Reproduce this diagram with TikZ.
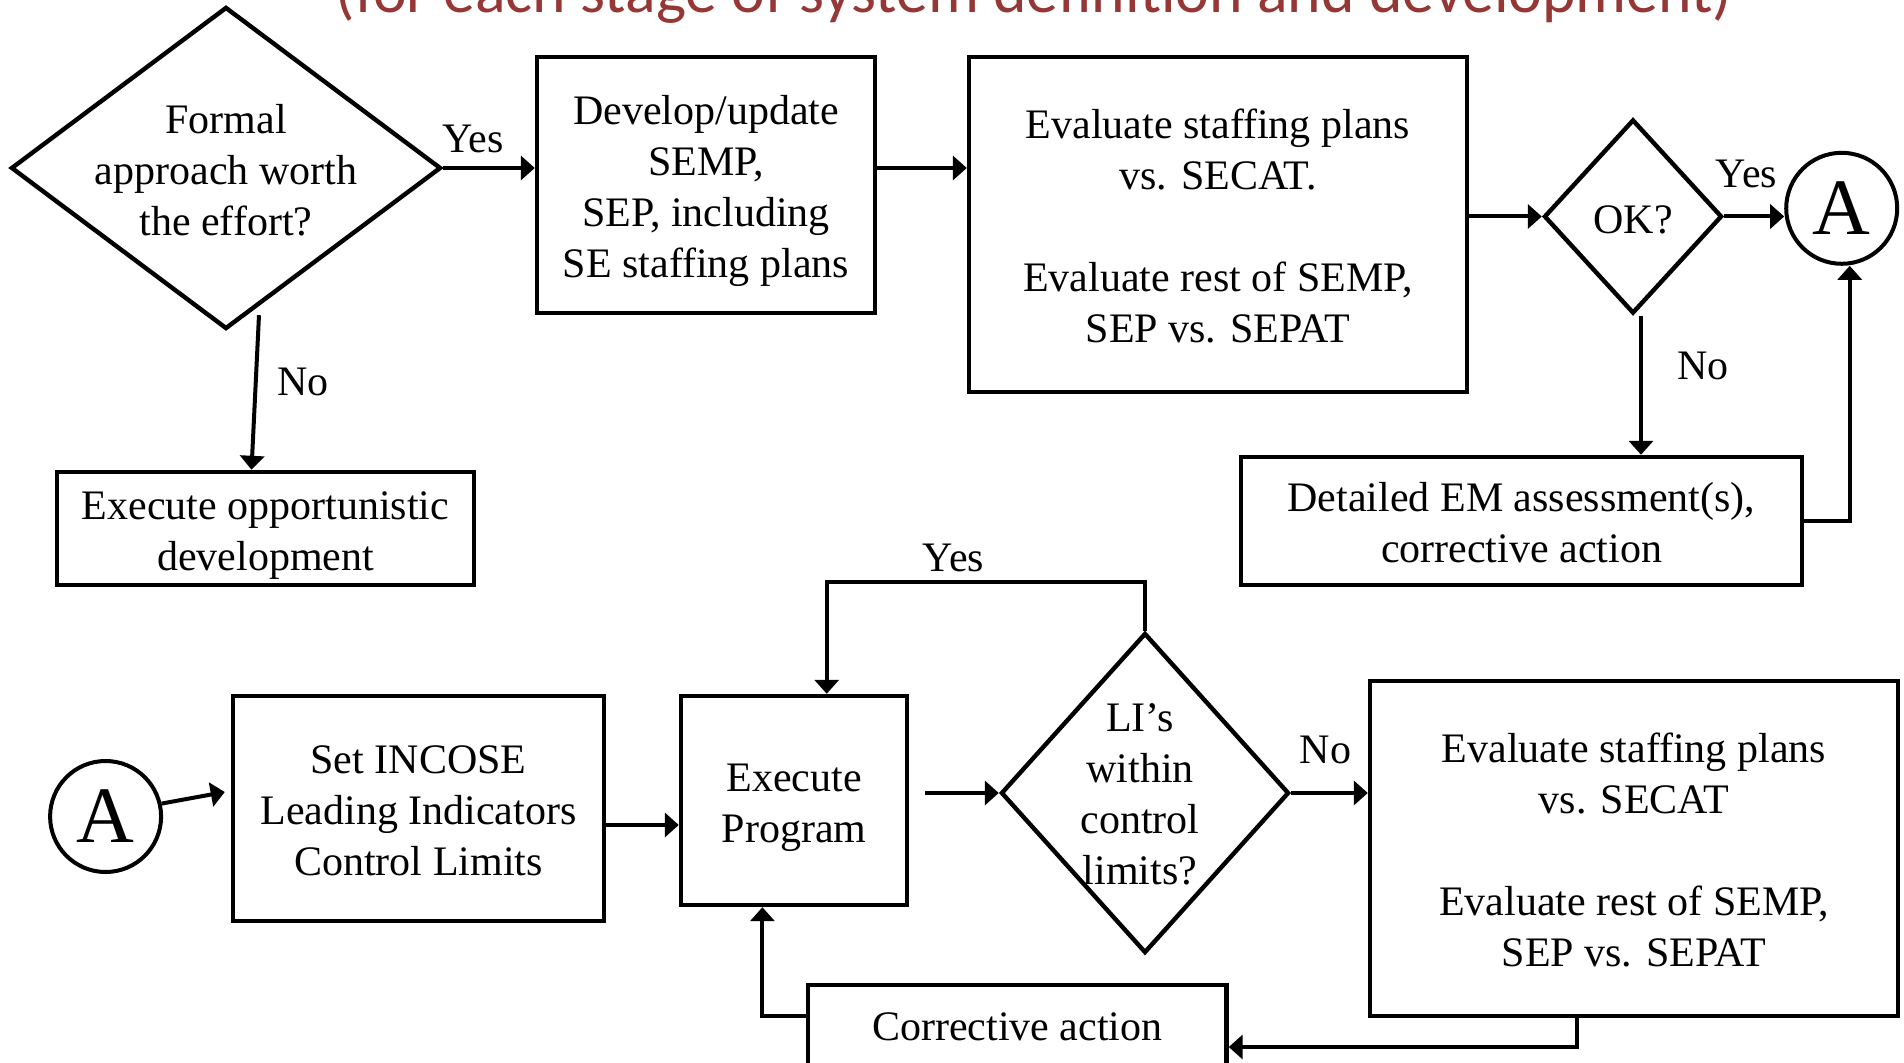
\documentclass[tikz,border=0pt]{standalone}
\usepackage{fontspec}
\setmainfont{Liberation Serif}
\newfontfamily\titlefont{Carlito}
\usetikzlibrary{arrows.meta,shapes.geometric,calc}
\newlength\pxu
\setlength\pxu{0.5pt}
\newcommand\tstr[1]{\rule{0pt}{#1}}
\definecolor{titlered}{RGB}{149,55,53}
\begin{document}
\begin{tikzpicture}[x=0.5pt,y=-0.5pt,
  every node/.style={font=\fontsize{21}{25.5}\selectfont},
  box/.style={draw, line width=2.2pt, rectangle, align=center, inner sep=0pt},
  dia/.style={draw, line width=2.2pt, diamond, inner sep=0pt},
  circ/.style={draw, line width=2pt, circle, inner sep=0pt, minimum size=55.5pt, font=\fontsize{40}{40}\selectfont},
  arr/.style={line width=2pt, -{Triangle[length=7pt,width=12pt]}},
  lbl/.style={anchor=base, inner sep=0pt},
  txt/.style={align=center, inner sep=0pt}
]
\useasboundingbox (0,0) rectangle (1904,1063);
\fill[white] (0,0) rectangle (1904,1063);
\clip (0,0) rectangle (1904,1063);

% title (cut off at top)
\node[anchor=base, inner sep=0pt, text=titlered, font=\titlefont\fontsize{31.9}{31.9}\selectfont] (title) at (1034,12.5) {(for each stage of system definition and development)};

% ---- top row ----
\node[dia, minimum width=430\pxu, minimum height=322\pxu] (d1) at (226,168) {};
\node[txt] (d1t) at (226,170) {Formal\\approach worth\\the effort?};

\node[box, minimum width=338\pxu, minimum height=256\pxu] (dev) at (706,185)
  {\tstr{20.5pt}Develop/update\\SEMP,\\SEP, including\\SE staffing plans};

\node[box, minimum width=498\pxu, minimum height=335\pxu] (ev1) at (1218,224.5)
  {\tstr{16.7pt}Evaluate staffing plans\\vs. SECAT.\\[25.5pt]Evaluate rest of SEMP,\\SEP vs. SEPAT};

\node[dia, minimum width=178\pxu, minimum height=194\pxu] (ok) at (1633,216.5) {};
\node[txt] (okt) at (1633,219.5) {OK?};

\node[circ, minimum size=111\pxu] (a1) at (1841.7,208.3) {A};

\node[box, minimum width=561\pxu, minimum height=128\pxu] (det) at (1521.5,521)
  {\tstr{16.7pt}Detailed EM assessment(s),\\corrective action};

\node[box, minimum width=417\pxu, minimum height=113\pxu] (opp) at (265.5,528.5)
  {\tstr{21.2pt}Execute opportunistic\\development};

% ---- bottom row ----
\node[circ, minimum size=111\pxu] (a2) at (105.6,816.5) {A};

\node[box, minimum width=371\pxu, minimum height=225\pxu] (set) at (418.5,808.5)
  {\tstr{16.3pt}Set INCOSE\\Leading Indicators\\Control Limits};

\node[box, minimum width=226\pxu, minimum height=209\pxu] (exe) at (794,800.5)
  {\tstr{21.2pt}Execute\\Program};

\node[dia, minimum width=288\pxu, minimum height=320\pxu] (li) at (1145,793) {};
\node[txt] (lit) at (1140,794.4) {LI's\\within\\control\\limits?};

\node[box, minimum width=528\pxu, minimum height=335\pxu] (ev2) at (1634,848.5)
  {\tstr{16.7pt}Evaluate staffing plans\\vs. SECAT\\[25.5pt]Evaluate rest of SEMP,\\SEP vs. SEPAT};

\node[box, minimum width=418.5\pxu, minimum height=110\pxu] (corr) at (1017.25,1040) {};
\node[txt] (corrt) at (1017.25,1026.5) {Corrective action};

% ---- labels ----
\node[lbl] (yes1) at (473,153) {Yes};
\node[lbl] (no1) at (303,396) {No};
\node[lbl] (yes2) at (1746.5,188) {Yes};
\node[lbl] (no2) at (1703,380) {No};
\node[lbl] (yes3) at (953.5,571) {Yes};
\node[lbl] (no3) at (1325.5,763) {No};

% ---- connectors ----
\draw[arr] (d1.east) -- (d1.east -| dev.west);
\draw[arr] (d1.east -| dev.east) -- (d1.east -| ev1.west);
\draw[arr] (ok.west -| ev1.east) -- (ok.west);
\draw[arr] (ok.east) -- (ok.east -| a1.west);
\draw[arr] ([xshift=4pt]ok.south) -- ([xshift=4pt]ok.south |- det.north);
\draw[arr] (det.east) -| ([xshift=4pt]a1.south);
\draw[arr] ([xshift=16.5pt,yshift=8pt]d1.south) -- ([xshift=-7pt]opp.north);

\draw[arr] (a2.13) -- ([xshift=-3pt,yshift=8.25pt]set.west);
\draw[arr] ([yshift=-8.25pt]set.east) -- ([yshift=-8.25pt]set.east -| exe.west);
\draw[arr] ([xshift=8pt]exe.east |- li.west) -- (li.west);
\draw[arr] (li.east) -- (li.east -| ev2.west);
\draw[arr] (li.north) -- ++(0,-49) -| ([xshift=16.35pt]exe.north);
\draw[arr] ([xshift=-28.75pt]ev2.south) |- ([yshift=-3.5pt]corr.east);
\draw[arr] ([yshift=12pt]corr.west) -| ([xshift=-15.8pt]exe.south);
\end{tikzpicture}
\end{document}
